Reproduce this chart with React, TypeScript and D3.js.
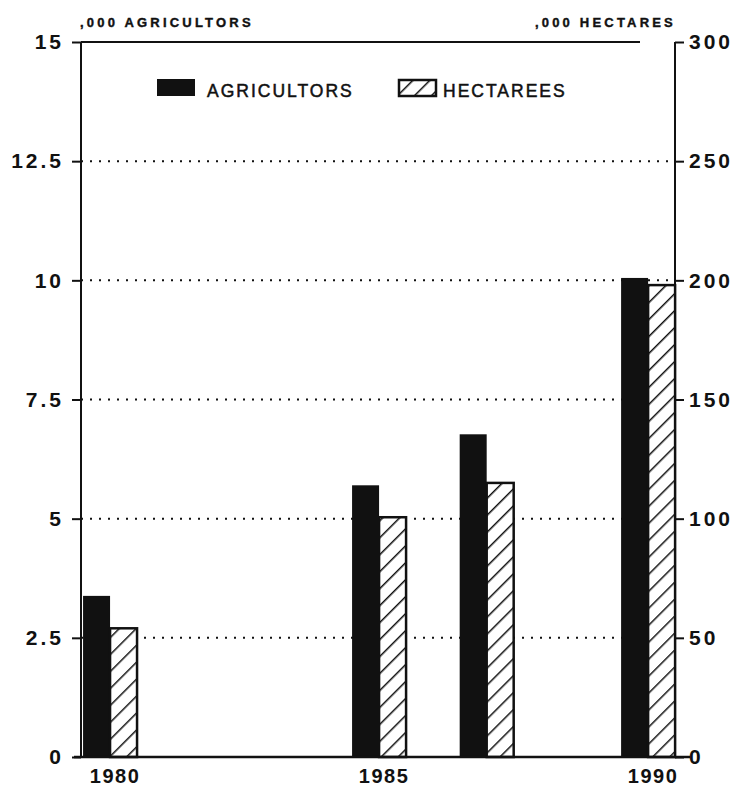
import React, { useEffect, useRef } from "react";
import * as d3 from "d3";

const years = [1980, 1985, 1987, 1990];
const agricultors = [3.38, 5.7, 6.77, 10.05]; // thousands
const hectarees = [54, 100.6, 115, 198]; // thousands of hectares
const yearTicks = [1980, 1985, 1990];
const leftTicks = [0, 2.5, 5, 7.5, 10, 12.5, 15];
const rightTicks = [0, 50, 100, 150, 200, 250, 300];

const App = () => {
  const ref = useRef(null);

  useEffect(() => {
    document.body.style.margin = "0";
    const width = 746;
    const height = 794;
    const left = 81;
    const right = 675;
    const top = 42;
    const bottom = 757;
    const barW = 27;
    const font = "'Liberation Sans', Arial, sans-serif";

    d3.select(ref.current).selectAll("*").remove();
    const svg = d3
      .select(ref.current)
      .append("svg")
      .attr("width", width)
      .attr("height", height)
      .style("display", "block")
      .style("background", "#fff");

    const x = d3.scaleLinear().domain([1979.46, 1990.5]).range([left, right]);
    const yL = d3.scaleLinear().domain([0, 15]).range([bottom, top]);
    const yR = d3.scaleLinear().domain([0, 300]).range([bottom, top]);

    // hatch pattern
    const defs = svg.append("defs");
    const pat = defs
      .append("pattern")
      .attr("id", "hatch")
      .attr("patternUnits", "userSpaceOnUse")
      .attr("width", 12)
      .attr("height", 12)
      .attr("patternTransform", "rotate(45)");
    pat.append("rect").attr("width", 12).attr("height", 12).attr("fill", "#fff");
    pat
      .append("line")
      .attr("x1", 0)
      .attr("y1", 0)
      .attr("x2", 0)
      .attr("y2", 12)
      .attr("stroke", "#111")
      .attr("stroke-width", 3);

    // gridlines
    svg
      .append("g")
      .selectAll("line")
      .data(leftTicks.filter((d) => d > 0 && d < 15))
      .enter()
      .append("line")
      .attr("x1", left)
      .attr("x2", right)
      .attr("y1", (d) => yL(d))
      .attr("y2", (d) => yL(d))
      .attr("stroke", "#111")
      .attr("stroke-width", 2)
      .attr("stroke-dasharray", "2,7");

    // frame
    svg
      .append("line")
      .attr("x1", left)
      .attr("x2", 640)
      .attr("y1", top)
      .attr("y2", top)
      .attr("stroke", "#111")
      .attr("stroke-width", 2);
    svg
      .append("line")
      .attr("x1", left)
      .attr("x2", left)
      .attr("y1", top)
      .attr("y2", bottom)
      .attr("stroke", "#111")
      .attr("stroke-width", 2);
    svg
      .append("line")
      .attr("x1", right)
      .attr("x2", right)
      .attr("y1", top)
      .attr("y2", bottom)
      .attr("stroke", "#111")
      .attr("stroke-width", 2);

    // bars
    const bars = svg.append("g");
    years.forEach((yr, i) => {
      bars
        .append("rect")
        .attr("x", x(yr) - barW)
        .attr("y", yL(agricultors[i]))
        .attr("width", barW)
        .attr("height", bottom - yL(agricultors[i]))
        .attr("fill", "#111");
      bars
        .append("rect")
        .attr("x", x(yr))
        .attr("y", yR(hectarees[i]))
        .attr("width", barW)
        .attr("height", bottom - yR(hectarees[i]))
        .attr("fill", "url(#hatch)")
        .attr("stroke", "#111")
        .attr("stroke-width", 2.5);
    });

    // baseline
    svg
      .append("line")
      .attr("x1", 74)
      .attr("x2", 690)
      .attr("y1", bottom)
      .attr("y2", bottom)
      .attr("stroke", "#111")
      .attr("stroke-width", 2.5);

    // left axis
    const leftAxis = d3
      .axisLeft(yL)
      .tickValues(leftTicks)
      .tickSize(9)
      .tickPadding(8)
      .tickFormat((d) => String(d));
    const gL = svg.append("g").attr("transform", `translate(${left},0)`).call(leftAxis);
    gL.select(".domain").remove();
    gL.selectAll("line").attr("stroke", "#111").attr("stroke-width", 2);
    gL.selectAll("text")
      .attr("font-family", font)
      .attr("font-weight", "bold")
      .attr("font-size", 21)
      .attr("letter-spacing", 3)
      .attr("fill", "#111");

    const rightAxis = d3
      .axisRight(yR)
      .tickValues(rightTicks)
      .tickSize(9)
      .tickPadding(5)
      .tickFormat((d) => String(d));
    const gR = svg.append("g").attr("transform", `translate(${right},0)`).call(rightAxis);
    gR.select(".domain").remove();
    gR.selectAll("line").attr("stroke", "#111").attr("stroke-width", 2);
    gR.selectAll("text")
      .attr("font-family", font)
      .attr("font-weight", "bold")
      .attr("font-size", 21)
      .attr("letter-spacing", 3)
      .attr("fill", "#111");

    // x labels
    svg
      .append("g")
      .selectAll("text")
      .data(yearTicks)
      .enter()
      .append("text")
      .attr("x", (d) => x(d) + 5)
      .attr("y", 783)
      .attr("text-anchor", "middle")
      .attr("font-family", font)
      .attr("font-weight", "bold")
      .attr("font-size", 20)
      .attr("letter-spacing", 1.5)
      .attr("fill", "#111")
      .text((d) => d);

    // axis titles
    svg
      .append("text")
      .attr("x", 80)
      .attr("y", 27)
      .attr("font-family", font)
      .attr("font-weight", "bold")
      .attr("font-size", 13)
      .attr("letter-spacing", 3.2)
      .attr("stroke", "#111")
      .attr("stroke-width", 0.4)
      .attr("fill", "#111")
      .text(",000 AGRICULTORS");
    svg
      .append("text")
      .attr("x", 676)
      .attr("y", 27)
      .attr("text-anchor", "end")
      .attr("font-family", font)
      .attr("font-weight", "bold")
      .attr("font-size", 13)
      .attr("letter-spacing", 3.2)
      .attr("stroke", "#111")
      .attr("stroke-width", 0.4)
      .attr("fill", "#111")
      .text(",000 HECTARES");

    // legend
    const lg = svg.append("g");
    lg.append("rect")
      .attr("x", 157)
      .attr("y", 79)
      .attr("width", 38)
      .attr("height", 17)
      .attr("fill", "#111");
    lg.append("text")
      .attr("x", 207)
      .attr("y", 97)
      .attr("font-family", font)
      .attr("font-size", 17.5)
      .attr("letter-spacing", 2)
      .attr("stroke", "#111")
      .attr("stroke-width", 0.5)
      .attr("fill", "#111")
      .text("AGRICULTORS");
    lg.append("rect")
      .attr("x", 399)
      .attr("y", 80)
      .attr("width", 37)
      .attr("height", 16)
      .attr("fill", "url(#hatch)")
      .attr("stroke", "#111")
      .attr("stroke-width", 2.5);
    lg.append("text")
      .attr("x", 443)
      .attr("y", 97)
      .attr("font-family", font)
      .attr("font-size", 17.5)
      .attr("letter-spacing", 2)
      .attr("stroke", "#111")
      .attr("stroke-width", 0.5)
      .attr("fill", "#111")
      .text("HECTAREES");
  }, []);

  return <div ref={ref}></div>;
};

export default App;
